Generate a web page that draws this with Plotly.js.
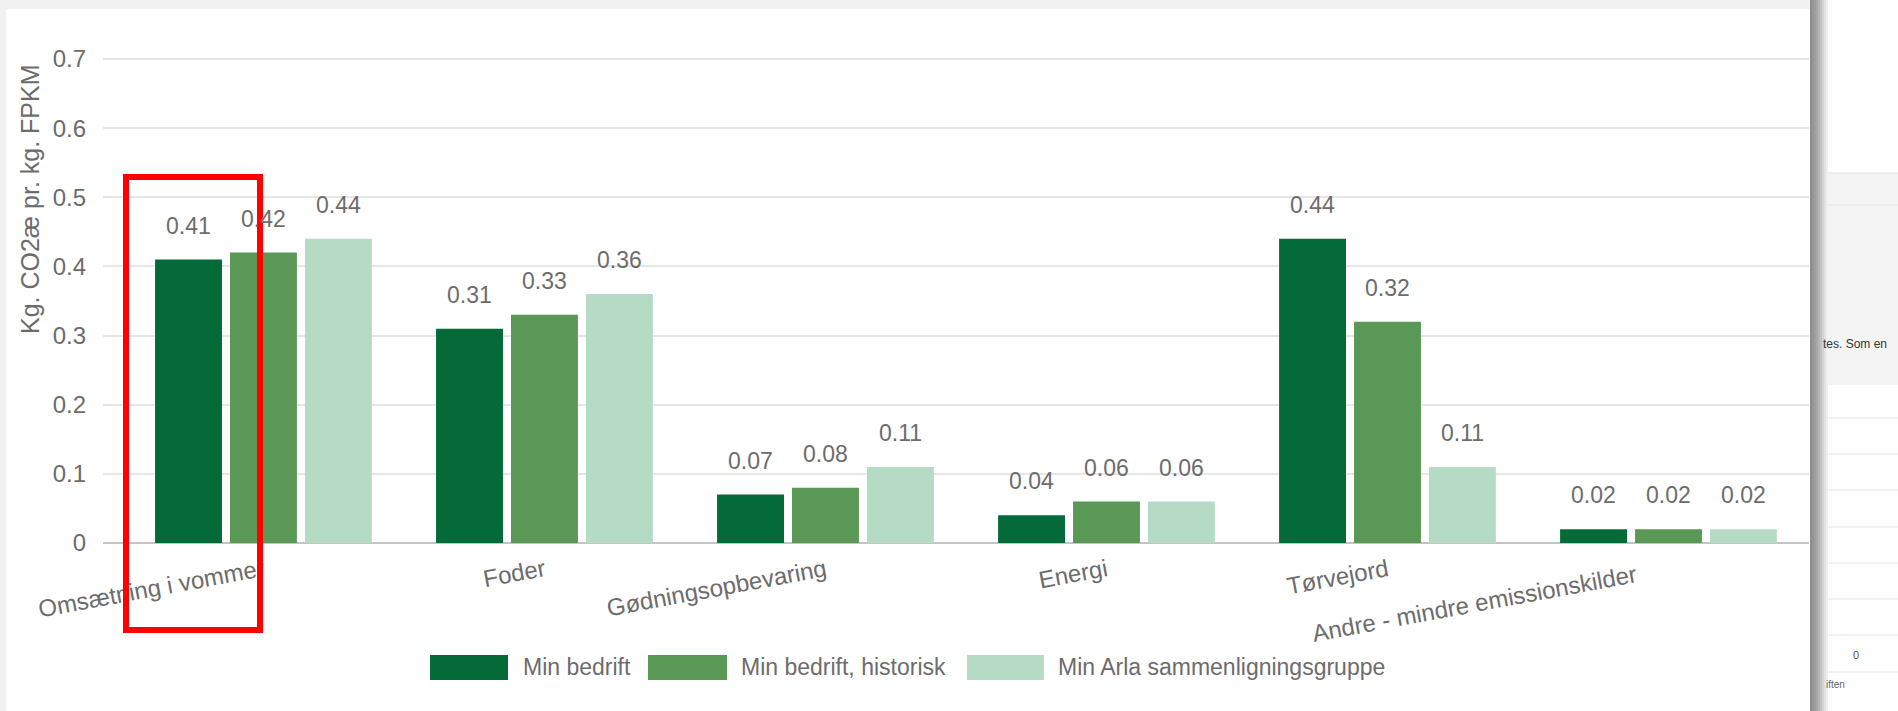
<!DOCTYPE html>
<html>
<head>
<meta charset="utf-8">
<script src="https://cdn.plot.ly/plotly-3.0.1.min.js"></script>
<style>
  html, body { margin: 0; padding: 0; background: #ffffff; }
  #chart { width: 1898px; height: 711px; }
</style>
</head>
<body>
<div id="chart"></div>
<script>
// ---- data ----
const categories = ["Omsætning i vommer", "Foder", "Gødningsopbevaring", "Energi", "Tørvejord", "Andre - mindre emissionskilder"];
const tickLabels = ["Omsætning i vommer", "Foder", "Gødningsopbevaring", "Energi", "Tørvejord", "Andre - mindre emissionskilder\u00a0\u00a0\u00a0\u00a0\u00a0"];
const seriesNames = ["Min bedrift", "Min bedrift, historisk", "Min Arla sammenligningsgruppe"];
const minBedrift = [0.41, 0.31, 0.07, 0.04, 0.44, 0.02];
const minBedriftHistorisk = [0.42, 0.33, 0.08, 0.06, 0.32, 0.02];
const minArla = [0.44, 0.36, 0.11, 0.06, 0.11, 0.02];
const yTitle = "Kg. CO2æ pr. kg. FPKM";

// ---- styling ----
const colors = ["#036a38", "#5a9955", "#b6dbc4"];
const textGray = "#6c6c6c";
const FONT = "Arial, 'Liberation Sans', sans-serif";

const W = 1898, H = 711;
const L = 103, R = 89, T = 58, B = 168;
const plotW = W - L - R, plotH = H - T - B;
const px = x => (x - L) / plotW;
const py = y => (H - B - y) / plotH;

const seriesValues = [minBedrift, minBedriftHistorisk, minArla];

const traces = seriesValues.map((vals, i) => ({
  type: "bar",
  name: seriesNames[i],
  x: categories,
  y: vals,
  marker: { color: colors[i] },
  hoverinfo: "x+y+name",
  showlegend: false
}));

// value labels above bars
const annotations = [];
const slotPx = (plotW / 6.071) * 0.8 / 3;
seriesValues.forEach((vals, i) => {
  vals.forEach((v, j) => {
    annotations.push({
      x: categories[j], y: v, xref: "x", yref: "y",
      text: v.toFixed(2), showarrow: false,
      xshift: (i - 1) * slotPx, yshift: 34,
      font: { family: FONT, size: 23, color: textGray }
    });
  });
});

// y-axis title
annotations.push({
  xref: "paper", yref: "paper", x: px(30), y: py(199),
  text: yTitle, textangle: -90, showarrow: false,
  xanchor: "center", yanchor: "middle",
  font: { family: FONT, size: 25, color: textGray }
});

// custom legend
const shapes = [];
const legendSw = [[430, 508], [648, 727], [967, 1044]];
const legendTx = [521, 739, 1056];
seriesNames.forEach((n, i) => {
  shapes.push({
    type: "rect", xref: "paper", yref: "paper", layer: "above",
    x0: px(legendSw[i][0]), x1: px(legendSw[i][1]), y0: py(680), y1: py(655),
    fillcolor: colors[i], line: { width: 0 }
  });
  annotations.push({
    xref: "paper", yref: "paper", x: px(legendTx[i]), y: py(667),
    text: n, showarrow: false, xanchor: "left", yanchor: "middle",
    font: { family: FONT, size: 23, color: textGray }
  });
});

// page chrome: gray strips
shapes.push({ type: "rect", xref: "paper", yref: "paper", layer: "below",
  x0: px(0), x1: px(1812), y0: py(9), y1: py(0), fillcolor: "#f1f1f1", line: { width: 0 } });
shapes.push({ type: "rect", xref: "paper", yref: "paper", layer: "below",
  x0: px(0), x1: px(6), y0: py(711), y1: py(0), fillcolor: "#f1f1f1", line: { width: 0 } });

// right-hand page behind
const bandLines = [205, 418, 454, 490, 527, 563, 599, 635, 672];
shapes.push({ type: "rect", xref: "paper", yref: "paper", layer: "above",
  x0: px(1822), x1: px(1898), y0: py(385), y1: py(173), fillcolor: "#f4f4f4", line: { width: 0 } });
bandLines.forEach(yy => shapes.push({ type: "line", xref: "paper", yref: "paper", layer: "above",
  x0: px(1822), x1: px(1898), y0: py(yy), y1: py(yy), line: { color: "#e4e4e4", width: 1 } }));
shapes.push({ type: "line", xref: "paper", yref: "paper", layer: "above",
  x0: px(1822), x1: px(1898), y0: py(173), y1: py(173), line: { color: "#e4e4e4", width: 1 } });

// shadow
const shadow = ["#8e8e8e", "#969696", "#9e9e9e", "#a8a8a8", "#b4b4b4", "#c2c2c2", "#d2d2d2", "#e2e2e2", "#efefef"];
shadow.forEach((c, k) => shapes.push({ type: "rect", xref: "paper", yref: "paper", layer: "above",
  x0: px(1810 + k * 2), x1: px(1812 + k * 2), y0: py(711), y1: py(0), fillcolor: c, line: { width: 0 } }));

annotations.push({ xref: "paper", yref: "paper", x: px(1821), y: py(344), text: "tes. Som en",
  showarrow: false, xanchor: "left", yanchor: "middle", font: { family: FONT, size: 12, color: "#333" } });
annotations.push({ xref: "paper", yref: "paper", x: px(1856), y: py(655), text: "0",
  showarrow: false, xanchor: "center", yanchor: "middle", font: { family: FONT, size: 11, color: "#555" } });
annotations.push({ xref: "paper", yref: "paper", x: px(1824), y: py(684), text: "iften",
  showarrow: false, xanchor: "left", yanchor: "middle", font: { family: FONT, size: 10, color: "#666" } });

// red highlight box
shapes.push({ type: "rect", xref: "paper", yref: "paper", layer: "above",
  x0: px(126), x1: px(260), y0: py(630), y1: py(177),
  line: { color: "#ff0000", width: 6 }, fillcolor: "rgba(0,0,0,0)" });

const layout = {
  width: W, height: H,
  margin: { l: L, r: R, t: T, b: B, pad: 0 },
  paper_bgcolor: "#ffffff", plot_bgcolor: "#ffffff",
  barmode: "group", bargap: 0.2, bargroupgap: 0.107,
  showlegend: false,
  xaxis: {
    type: "category", range: [-0.571, 5.5],
    tickmode: "array", tickvals: categories, ticktext: tickLabels,
    tickangle: -10.5, ticks: "", ticklabelstandoff: 8,
    showgrid: false, zeroline: false, showline: false,
    tickfont: { family: FONT, size: 24, color: textGray },
    automargin: false
  },
  yaxis: {
    range: [0, 0.7015], dtick: 0.1, tick0: 0,
    gridcolor: "#e6e6e6", gridwidth: 1.5,
    zeroline: true, zerolinecolor: "#c4c4c4", zerolinewidth: 2,
    showline: false, ticks: "", ticklabelstandoff: 16,
    tickfont: { family: FONT, size: 24, color: textGray },
    automargin: false
  },
  annotations: annotations,
  shapes: shapes,
  font: { family: FONT, color: textGray }
};

Plotly.newPlot("chart", traces, layout, { displayModeBar: false });
</script>
</body>
</html>
